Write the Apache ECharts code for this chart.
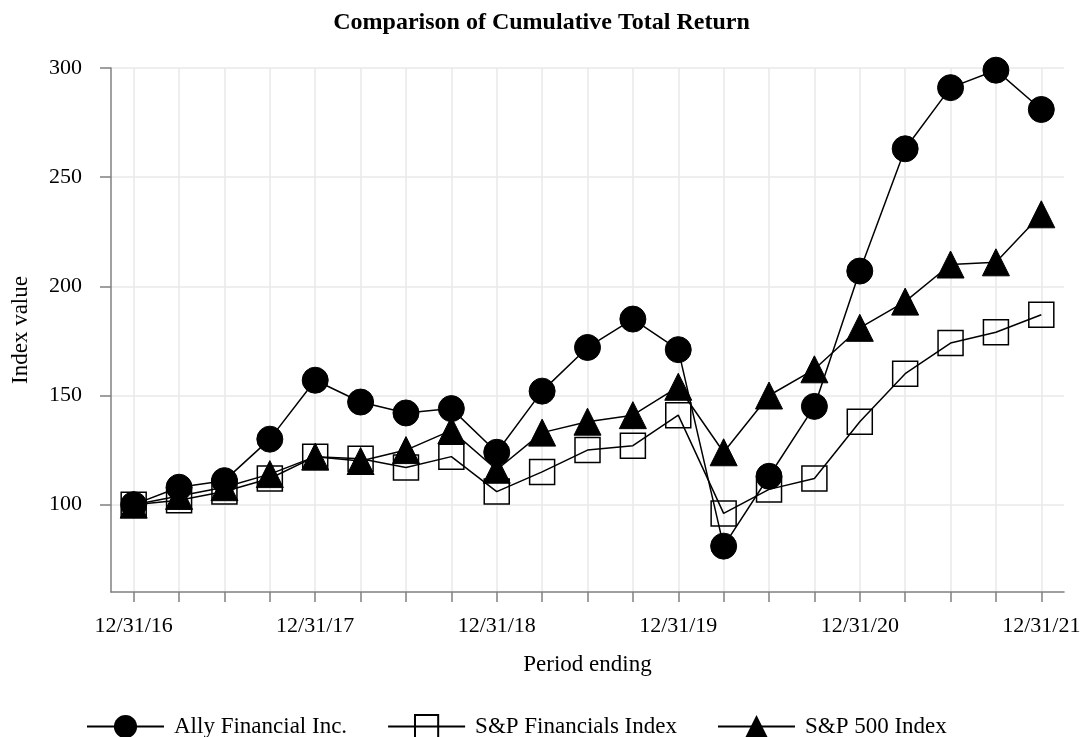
<!DOCTYPE html>
<html>
<head>
<meta charset="utf-8">
<script src="https://cdn.jsdelivr.net/npm/echarts@6/dist/echarts.min.js"></script>
<style>
  html, body { margin: 0; padding: 0; background: #fff; }
  #chart { width: 1083px; height: 737px; }
</style>
</head>
<body>
<div id="chart"></div>
<script>
// quarter ends 12/31/16 .. 12/31/21
var periods = ['12/31/16', '3/31/17', '6/30/17', '9/30/17', '12/31/17', '3/31/18', '6/30/18', '9/30/18',
    '12/31/18', '3/31/19', '6/30/19', '9/30/19', '12/31/19', '3/31/20', '6/30/20', '9/30/20',
    '12/31/20', '3/31/21', '6/30/21', '9/30/21', '12/31/21'];
var allyValues = [100, 108, 111, 130, 157, 147, 142, 144, 124, 152, 172, 185, 171, 81, 113, 145, 207, 263, 291, 299, 281];
var finValues = [100, 102, 106, 112, 122, 121, 117, 122, 106, 115, 125, 127, 141, 96, 107, 112, 138, 160, 174, 179, 187];
var spValues = [100, 104, 108, 114, 122, 120, 125, 134, 116, 133, 138, 141, 154, 124, 150, 162, 181, 193, 210, 211, 233];
var yTicks = [100, 150, 200, 250, 300];

var font = 'Liberation Serif';
var chart = echarts.init(document.getElementById('chart'));

chart.setOption({
    animation: false,
    textStyle: {fontFamily: font, color: '#000'},
    title: {
        text: 'Comparison of Cumulative Total Return',
        left: 'center',
        top: 6,
        textStyle: {fontFamily: font, fontSize: 24, fontWeight: 'bold', color: '#000'}
    },
    grid: {left: 111, right: 19, top: 68, bottom: 145, outerBoundsMode: 'none'},
    legend: {
        top: 709,
        left: 81,
        itemWidth: 77,
        itemHeight: 29,
        itemGap: 40,
        textStyle: {fontFamily: font, fontSize: 23, color: '#000', padding: [0, 0, 0, 5]},
        data: [
            'Ally Financial Inc.',
            {name: 'S&P Financials Index', textStyle: {fontFamily: font, fontSize: 23, color: '#000', padding: [0, 14, 0, 5]}},
            'S&P 500 Index'
        ]
    },
    xAxis: {
        type: 'category',
        data: periods,
        boundaryGap: true,
        name: 'Period ending',
        nameLocation: 'middle',
        nameGap: 61,
        nameTextStyle: {fontFamily: font, fontSize: 23, color: '#000'},
        axisLine: {lineStyle: {color: '#808080', width: 1.5}},
        axisTick: {show: true, interval: 0, alignWithLabel: true, length: 10, lineStyle: {color: '#808080', width: 1.5}},
        axisLabel: {interval: 3, margin: 23, fontFamily: font, fontSize: 22, color: '#000'},
        splitLine: {show: true, interval: 0, alignWithLabel: true, lineStyle: {color: '#e8e8e8', width: 1.5}}
    },
    yAxis: {
        type: 'value',
        min: 60,
        max: 300,
        splitNumber: 5,
        name: 'Index value',
        nameLocation: 'middle',
        nameGap: 79,
        nameTextStyle: {fontFamily: font, fontSize: 23, color: '#000'},
        axisLine: {show: true, lineStyle: {color: '#808080', width: 1.5}},
        axisTick: {show: true, length: 11, customValues: yTicks, lineStyle: {color: '#808080', width: 1.5}},
        axisLabel: {margin: 29, customValues: yTicks, fontFamily: font, fontSize: 22, color: '#000'},
        splitLine: {show: true, lineStyle: {color: '#e8e8e8', width: 1.5}}
    },
    series: [
        {
            name: 'Ally Financial Inc.',
            type: 'line',
            data: allyValues,
            symbol: 'circle',
            symbolSize: 26,
            z: 3,
            lineStyle: {color: '#000', width: 1.5},
            itemStyle: {color: '#000', borderColor: '#000'}
        },
        {
            name: 'S&P Financials Index',
            type: 'line',
            data: finValues,
            symbol: 'rect',
            symbolSize: 25,
            z: 4,
            lineStyle: {color: '#000', width: 1.5},
            itemStyle: {color: 'rgba(255,255,255,0)', borderColor: '#000', borderWidth: 1.5}
        },
        {
            name: 'S&P 500 Index',
            type: 'line',
            data: spValues,
            symbol: 'triangle',
            symbolSize: 27,
            z: 2,
            lineStyle: {color: '#000', width: 1.5},
            itemStyle: {color: '#000', borderColor: '#000'}
        }
    ]
});
</script>
</body>
</html>
